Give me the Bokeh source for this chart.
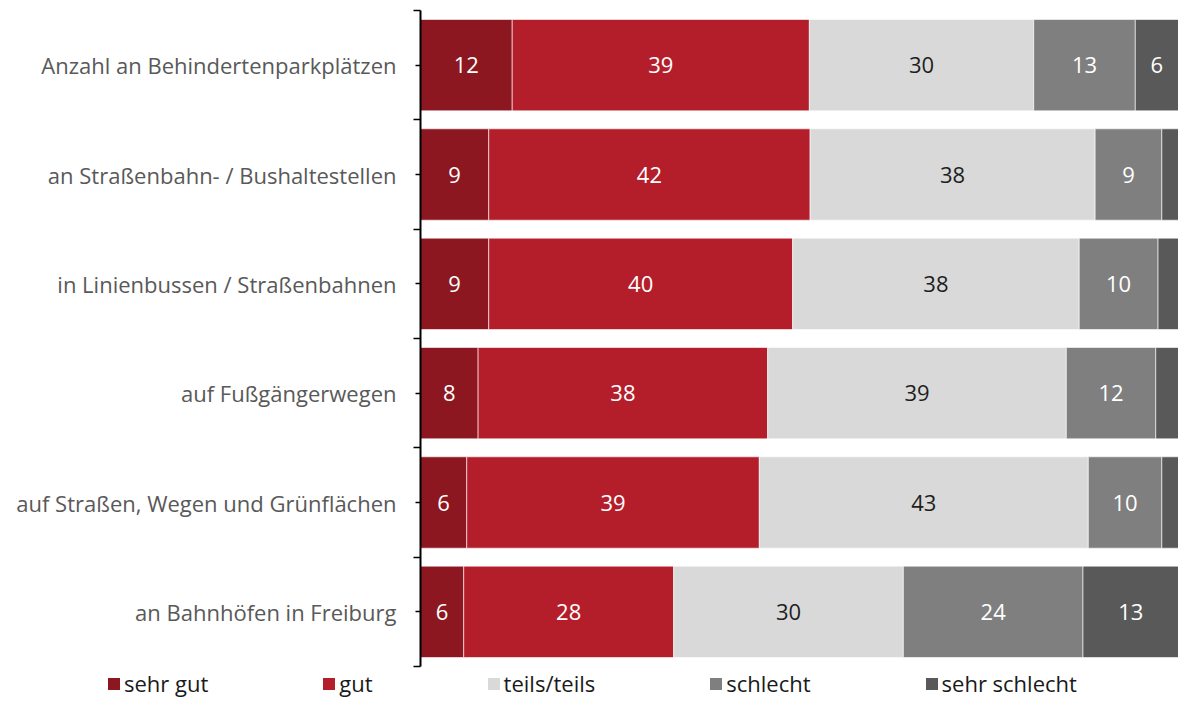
from bokeh.plotting import figure
from bokeh.layouts import column
from bokeh.models import ColumnDataSource, FixedTicker, Range1d, Legend, LegendItem
from bokeh.core.properties import value
from bokeh.embed import file_html
from bokeh.resources import INLINE

categories = [
    "Anzahl an Behindertenparkplätzen",
    "an Straßenbahn- / Bushaltestellen",
    "in Linienbussen / Straßenbahnen",
    "auf Fußgängerwegen",
    "auf Straßen, Wegen und Grünflächen",
    "an Bahnhöfen in Freiburg",
]
series_names = ["sehr gut", "gut", "teils/teils", "schlecht", "sehr schlecht"]
sehr_gut = [12.1, 9.0, 9.0, 7.6, 6.1, 5.7]
gut = [39.2, 42.4, 40.1, 38.2, 38.6, 27.7]
teils = [29.6, 37.6, 37.8, 39.4, 43.4, 30.3]
schlecht = [13.4, 8.8, 10.4, 11.8, 9.7, 23.7]
sehr_schlecht = [5.7, 2.2, 2.7, 3.0, 2.2, 12.6]

colors = ["#8C1720", "#B41E2B", "#D9D9D9", "#7F7F7F", "#595959"]
label_colors = ["#FFFFFF", "#FFFFFF", "#1E1E1E", "#FFFFFF", "#FFFFFF"]
FONT = "Open Sans"

keys = ["sehr_gut", "gut", "teils", "schlecht", "sehr_schlecht"]
series = [sehr_gut, gut, teils, schlecht, sehr_schlecht]
n = len(categories)
ys = [n - 0.5 - i for i in range(n)]

data = {"y": ys}
for k, s in zip(keys, series):
    data[k] = s
src = ColumnDataSource(data)

p = figure(
    width=1178, height=668,
    x_range=Range1d(0, 100), y_range=Range1d(0, n),
    output_backend="svg", toolbar_location=None,
    min_border_left=420, min_border_right=0, min_border_top=10, min_border_bottom=2,
)
p.frame_align = False
p.outline_line_color = None
p.xgrid.visible = False
p.ygrid.visible = False
p.xaxis.visible = False

renderers = p.hbar_stack(
    keys, y="y", height=0.836, color=colors, source=src,
    line_color="white", line_alpha=0.6, line_width=1,
)

# value labels
lx, ly, lt, lc = [], [], [], []
for i in range(n):
    left = 0.0
    for j, s in enumerate(series):
        v = s[i]
        if v >= 4:
            lx.append(left + v / 2)
            ly.append(ys[i])
            lt.append(str(int(v + 0.5)))
            lc.append(label_colors[j])
        left += v
lsrc = ColumnDataSource(dict(x=lx, y=ly, t=lt, c=lc))
p.text(
    x="x", y="y", text="t", text_color="c", source=lsrc,
    text_align="center", text_baseline="middle",
    text_font=value(FONT), text_font_size="22px",
)

ax = p.yaxis[0]
ax.ticker = FixedTicker(ticks=ys, minor_ticks=list(range(n + 1)))
ax.major_label_overrides = {y: c for y, c in zip(ys, categories)}
ax.axis_line_color = "black"
ax.axis_line_width = 2
ax.major_tick_line_color = "black"
ax.minor_tick_line_color = "black"
ax.major_tick_line_width = 1.5
ax.minor_tick_line_width = 1.5
ax.major_tick_in = 0
ax.major_tick_out = 5
ax.minor_tick_in = 0
ax.minor_tick_out = 7
ax.major_label_standoff = 17
ax.major_label_text_font = FONT
ax.major_label_text_font_size = "22px"
ax.major_label_text_color = "#595959"

# legend strip: its own frame spans the full width so the legend can start left of the bars
lg = figure(
    width=1178, height=29,
    x_range=Range1d(0, 100), y_range=Range1d(0, n),
    output_backend="svg", toolbar_location=None,
    min_border_left=0, min_border_right=0, min_border_top=0, min_border_bottom=0,
)
lg.frame_align = False
lg.outline_line_color = None
lg.xgrid.visible = False
lg.ygrid.visible = False
lg.xaxis.visible = False
lg.yaxis.visible = False
proxies = lg.hbar_stack(
    keys, y="y", height=0.836, color=colors, source=src, line_color=None,
)
for r in proxies:
    r.visible = False

legend = Legend(
    items=[LegendItem(label=nm, renderers=[r]) for nm, r in zip(series_names, proxies)],
    orientation="horizontal",
    location=(106, -1),
    glyph_width=15, glyph_height=15,
    label_standoff=3, spacing=113,
    padding=0, margin=0,
    border_line_color=None, background_fill_alpha=0,
    inactive_fill_alpha=0,
    label_text_font=FONT, label_text_font_size="22px",
    label_text_color="#1A1A1A",
)
lg.add_layout(legend, "center")

layout = column(p, lg, spacing=0)
open("out.html", "w").write(file_html(layout, INLINE))
